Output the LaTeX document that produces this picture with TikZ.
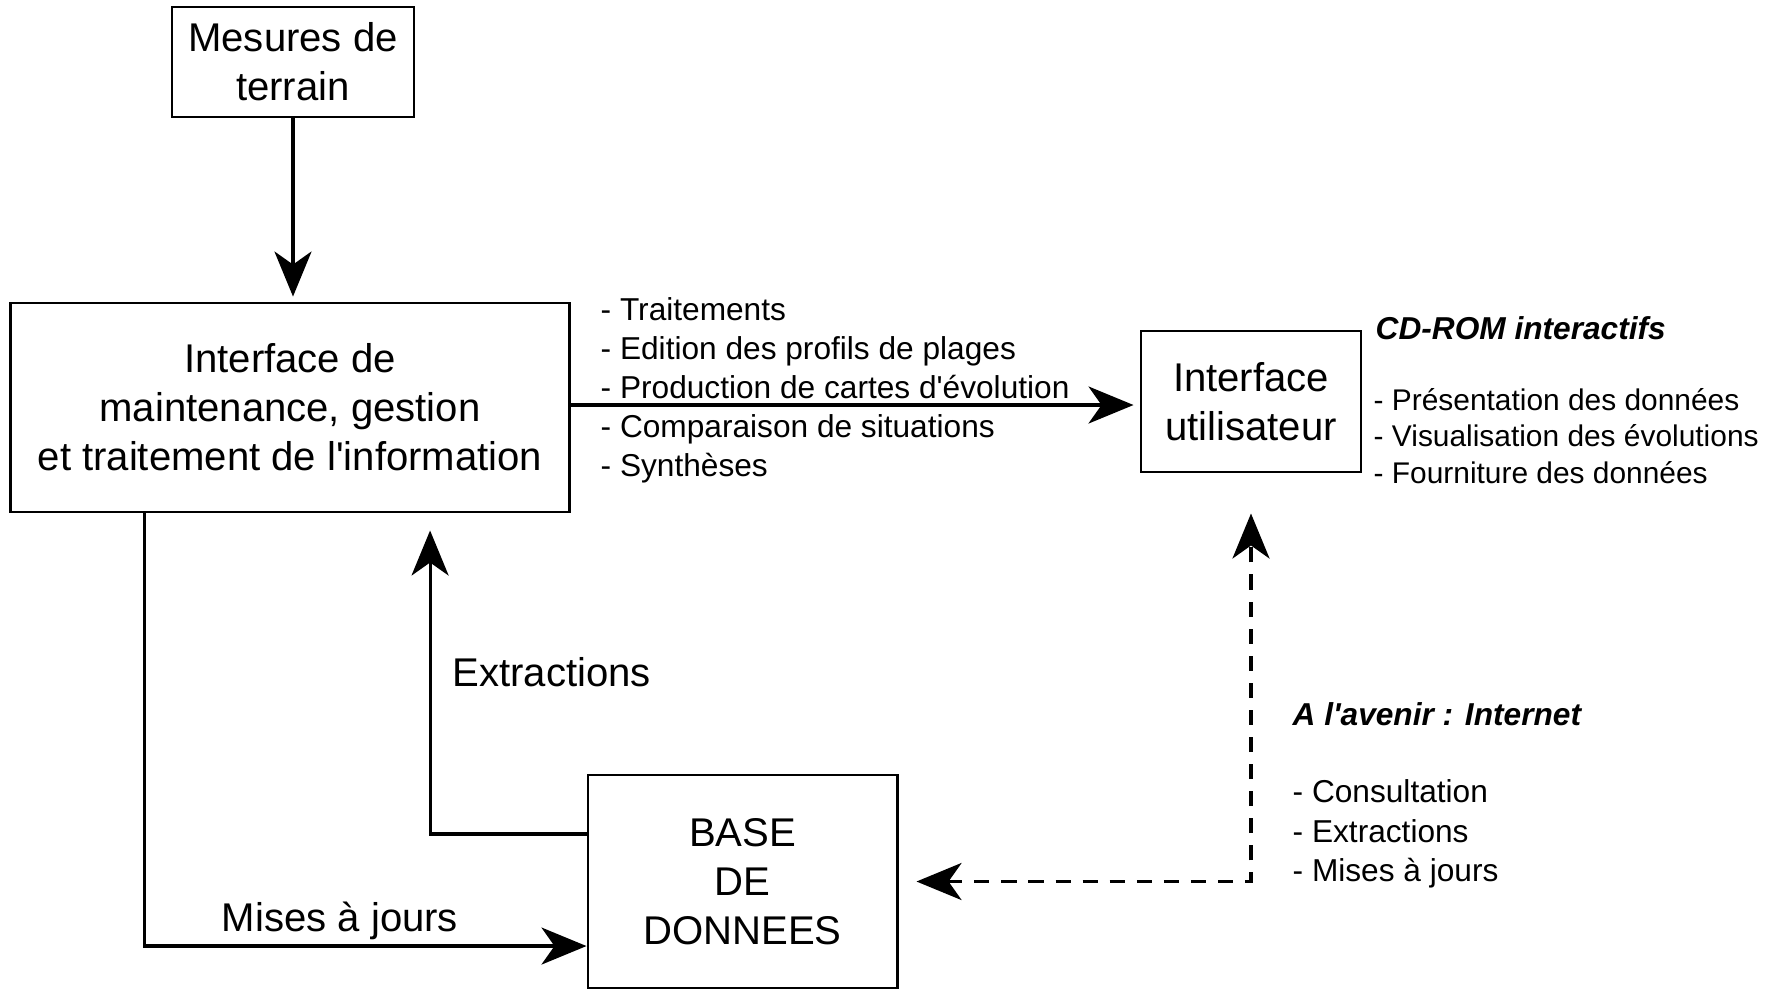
\documentclass[tikz,border=0pt]{standalone}
\usepackage{fontspec}
\setmainfont{Liberation Sans}
\usetikzlibrary{arrows.meta}
\newcommand{\grand}{\fontsize{11.4}{13.9}\selectfont}
\newcommand{\moyen}{\fontsize{9}{11.1}\selectfont}
\newcommand{\petit}{\fontsize{8.5}{10.3}\selectfont}
\tikzset{
	boite/.style={draw,line width=0.8pt,align=center,inner sep=0pt,font=\grand},
	liste/.style={align=left,anchor=west,inner sep=0pt,font=\moyen},
	titre/.style={anchor=west,inner sep=0pt,font=\moyen\bfseries\itshape},
	fleche/.style={line width=0.9pt,-{Stealth[length=4.5mm,width=3.7mm,inset=1.3mm]}},
	tirets/.style={line width=1pt,dash pattern=on 4.3pt off 3.4pt,{Stealth[length=4.5mm,width=3.7mm,inset=1.3mm]}-{Stealth[length=4.5mm,width=3.7mm,inset=1.3mm]}}
}
\begin{document}
\begin{tikzpicture}[x=0.01cm,y=-0.01cm]
	\useasboundingbox (0,0) rectangle (1775,990);

	% boites
	\node [boite,minimum width=2.42cm,minimum height=1.10cm] (mesures) at (293,62) {Mesures de\\terrain};
	\node [boite,minimum width=5.58cm,minimum height=2.09cm] (main) at (290,407.5) {Interface de\\maintenance, gestion\\et traitement de l\textquotesingle information};
	\node [boite,minimum width=2.20cm,minimum height=1.41cm] (ui) at (1251,401.5) {Interface\\utilisateur};
	\node [boite,minimum width=3.09cm,minimum height=2.13cm] (base) at (742.5,881.5) {BASE\\DE\\DONNEES};

	% textes
	\node [liste] (traitements) at (600,390) {- Traitements\\- Edition des profils de plages\\- Production de cartes d\textquotesingle évolution\\- Comparaison de situations\\- Synthèses};
	\node [titre] (cdrom) at (1375,328) {CD-ROM interactifs};
	\node [liste,font=\petit] (presentation) at (1373,436) {- Présentation des données\\- Visualisation des évolutions\\- Fourniture des données};
	\node [titre] (avenir) at (1292,714) {A l\textquotesingle avenir : Internet};
	\node [liste,font=\fontsize{9}{11.3}\selectfont] (consultation) at (1292,834) {- Consultation\\- Extractions\\- Mises à jours};
	\node [anchor=west,inner sep=0pt,font=\grand] (extractions) at (452,672) {Extractions};
	\node [inner sep=0pt,font=\grand] (misesajour) at (340,921) {Mises à jours};

	% fleches
	\draw [fleche,shorten >=0.5mm] (mesures.south) -- (mesures.south |- main.north);
	\draw [fleche,shorten >=0.6mm] (main.east |- 0,405) -- (ui.west |- 0,405);
	\draw [fleche,shorten >=1.7mm] ([yshift=4.75mm]base.west) -| ([xshift=14mm]main.south);
	\draw [fleche] ([xshift=-14.5mm]main.south) |- ([yshift=-6.45mm]base.west);
	\draw [tirets,shorten <=1.8mm,shorten >=4mm] (base.east) -| (ui.south);
\end{tikzpicture}
\end{document}
